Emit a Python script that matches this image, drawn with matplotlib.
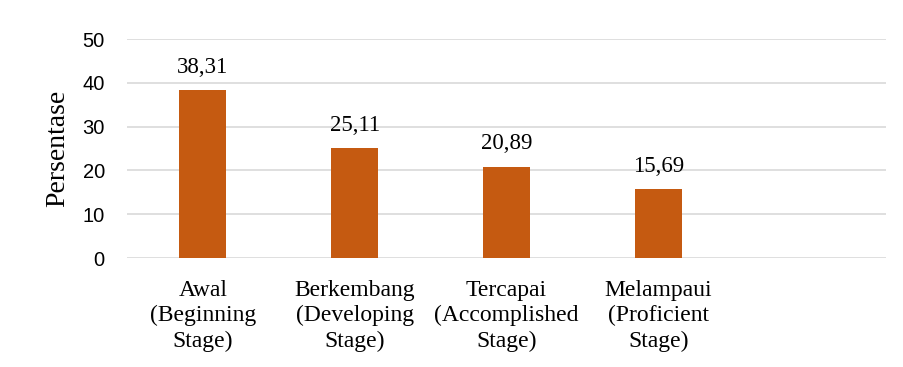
import numpy as np
import matplotlib
matplotlib.use("Agg")
import matplotlib.pyplot as plt

# data
categories = [
    "Awal\n(Beginning\nStage)",
    "Berkembang\n(Developing\nStage)",
    "Tercapai\n(Accomplished\nStage)",
    "Melampaui\n(Proficient\nStage)",
]
values = [38.31, 25.11, 20.89, 15.69]
value_labels = ["38,31", "25,11", "20,89", "15,69"]
y_ticks = [0, 10, 20, 30, 40, 50]

bar_color = "#C55A11"
grid_color = "#D9D9D9"
serif = ["Liberation Serif", "DejaVu Serif"]
sans = ["Liberation Sans", "DejaVu Sans"]

fig = plt.figure(figsize=(9.04, 3.67), dpi=100)
ax = fig.add_axes([0.1405, 0.297, 0.8395, 0.5967])

x = np.arange(len(categories))
bars = ax.bar(x, values, width=0.31, color=bar_color, zorder=3)

# value labels above each bar
for rect, lab in zip(bars, value_labels):
    ax.annotate(lab, (rect.get_x() + rect.get_width() / 2, rect.get_height()),
                xytext=(0, 12.5), textcoords="offset points",
                ha="center", va="baseline", fontsize=16.5, family=serif)

# the chart leaves an empty fifth slot on the right
ax.set_xlim(-0.5, len(categories) + 0.5)
ax.set_ylim(0, 50)
ax.set_yticks(y_ticks)
ax.set_yticklabels([str(t) for t in y_ticks], fontsize=14.5, family=sans)
ax.set_xticks(x)
ax.set_xticklabels(categories, fontsize=17, family=serif, linespacing=1.27)

ax.tick_params(axis="y", length=0, pad=16)
ax.tick_params(axis="x", length=0, pad=15.5)
ax.grid(axis="y", color=grid_color, linewidth=1.2, zorder=0)

for s in ax.spines.values():
    s.set_visible(False)

ax.set_ylabel("Persentase", fontsize=20, family=serif, va="center")
ax.yaxis.set_label_coords(-0.091, 0.5)

fig.savefig("out.png", dpi=100)
